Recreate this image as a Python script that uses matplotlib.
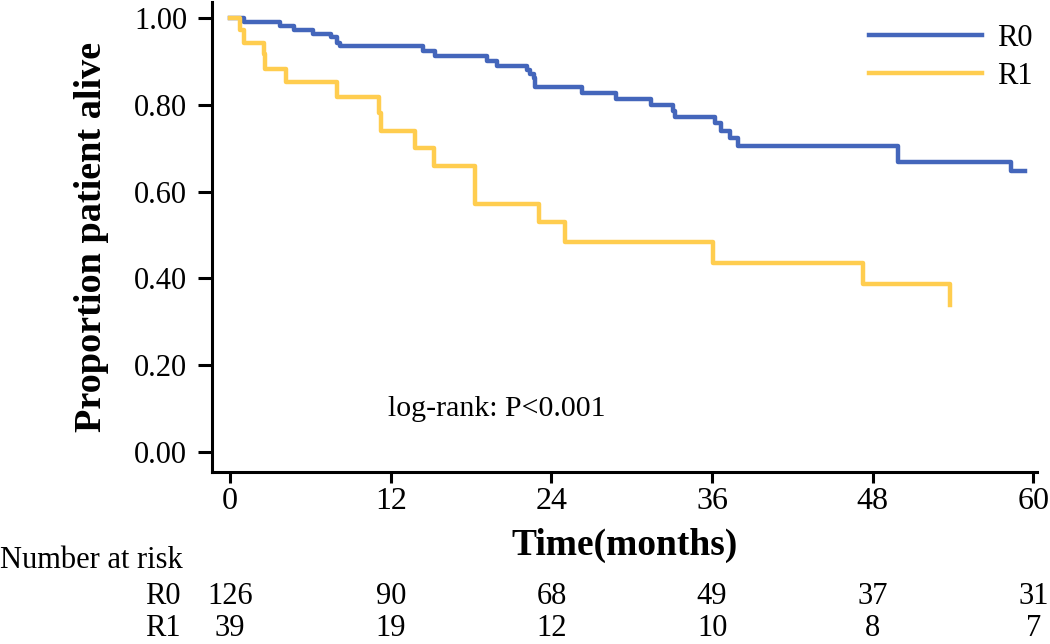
import matplotlib
matplotlib.use('Agg')
import matplotlib.pyplot as plt
import matplotlib.transforms as mtransforms

plt.rcParams['font.family'] = ['Liberation Serif', 'DejaVu Serif']

# Kaplan-Meier step data
r0_times = [0, 1.0, 3.7, 4.8, 6.15, 7.55, 8.0, 8.2, 14.4, 15.3, 19.2, 19.9, 22.2, 22.4,
            22.7, 22.8, 26.3, 28.8, 31.4, 33.1, 33.2, 36.2, 36.7, 37.3, 37.9, 49.9, 58.3, 59.4]
r0_surv = [1.0, 0.990, 0.982, 0.973, 0.964, 0.956, 0.943, 0.935, 0.925, 0.913, 0.902, 0.889,
           0.880, 0.871, 0.862, 0.840, 0.827, 0.813, 0.800, 0.786, 0.771, 0.757, 0.740, 0.724,
           0.705, 0.669, 0.647, 0.647]

r1_times = [0, 0.7, 1.0, 2.5, 2.6, 4.2, 8.0, 11.1, 11.3, 13.8, 15.2, 18.3, 23.1, 25.0,
            36.1, 47.3, 53.8]
r1_surv = [1.0, 0.972, 0.943, 0.918, 0.882, 0.853, 0.819, 0.780, 0.740, 0.700, 0.660, 0.571,
           0.529, 0.484, 0.436, 0.387, 0.339]

groups = ['R0', 'R1']
colors = ['#4466BB', '#FFCD4F']

risk_times = [0, 12, 24, 36, 48, 60]
risk_r0 = [126, 90, 68, 49, 37, 31]
risk_r1 = [39, 19, 12, 10, 8, 7]

y_ticks = [0.0, 0.2, 0.4, 0.6, 0.8, 1.0]

fig = plt.figure(figsize=(10.5, 6.44), dpi=100)
ax = fig.add_axes([0.202, 0.267, 0.786, 0.730])

ax.step(r0_times, r0_surv, where='post', color=colors[0], lw=3.2, label=groups[0])
ax.step(r1_times, r1_surv, where='post', color=colors[1], lw=3.2, label=groups[1])

ax.set_xlim(-1.35, 60.3)
ax.set_ylim(-0.046, 1.037)
ax.set_xticks(risk_times)
ax.set_yticks(y_ticks)
ax.set_yticklabels(['%.2f' % v for v in y_ticks])

for side in ['top', 'right']:
    ax.spines[side].set_visible(False)
for side in ['left', 'bottom']:
    ax.spines[side].set_linewidth(2.2)
ax.tick_params(axis='y', length=10, width=2.2, labelsize=22, pad=8)
ax.tick_params(axis='x', length=8, width=2.2, labelsize=23, pad=3)

ax.set_ylabel('Proportion patient alive', fontsize=27.5, fontweight='bold', labelpad=18)
ax.set_xlabel('Time(months)', fontsize=27, fontweight='bold', labelpad=8)

ax.text(11.8, 0.099, 'log-rank: P<0.001', fontsize=21.5, va='center', ha='left')

leg = ax.legend(loc='upper right', bbox_to_anchor=(1.028, 1.012), frameon=False, fontsize=22,
                handlelength=3.7, handletextpad=0.5, labelspacing=0.3)

# number at risk table
trans = mtransforms.blended_transform_factory(ax.transData, fig.transFigure)
fig.text(0.0, 1 - 560 / 644, 'Number at risk', fontsize=22, ha='left', va='center')
for name, counts, ypix in [('R0', risk_r0, 597), ('R1', risk_r1, 629)]:
    yf = 1 - ypix / 644
    fig.text(181 / 1050, yf, name, fontsize=22, ha='right', va='center')
    for t, n in zip(risk_times, counts):
        ax.text(t, yf, str(n), fontsize=22, ha='center', va='center', transform=trans)

fig.savefig('out.png', dpi=100)
